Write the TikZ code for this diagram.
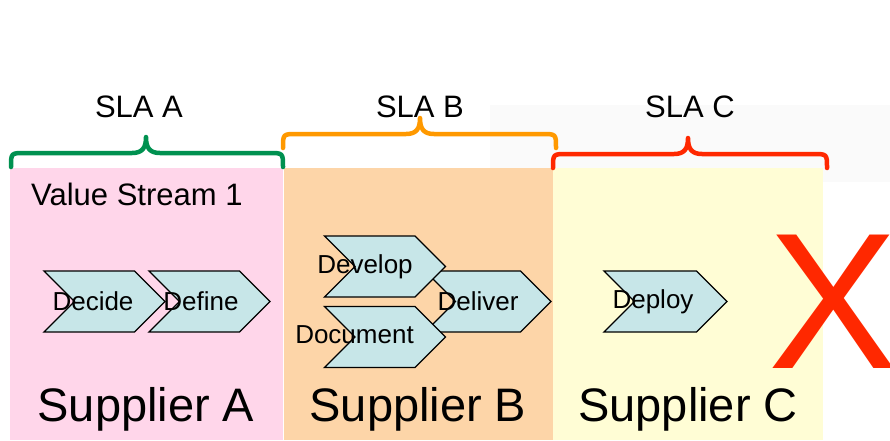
\documentclass[tikz,border=0pt]{standalone}
\usepackage{fontspec}
\setmainfont{Liberation Sans}
\usetikzlibrary{shapes.symbols,positioning}
\definecolor{paneA}{RGB}{255,214,234}
\definecolor{paneB}{RGB}{253,213,168}
\definecolor{paneC}{RGB}{255,253,213}
\definecolor{chevfill}{RGB}{199,230,232}
\definecolor{slagreen}{RGB}{0,145,80}
\definecolor{slaorange}{RGB}{255,153,0}
\definecolor{slared}{RGB}{255,40,0}
\definecolor{bgshade}{RGB}{250,250,250}
\tikzset{
  chev/.style={signal, signal from=west, signal to=east, draw=black, line width=1.3,
    fill=chevfill, minimum height=61pt, text width=60pt, inner sep=0pt},
  chevtext/.style={inner sep=0pt, font=\fontsize{26}{30}\selectfont},
  slabrace/.style={line width=4.5, line cap=round, line join=round},
  slalabel/.style={inner sep=0pt, font=\fontsize{31}{36}\selectfont},
  supplier/.style={inner sep=0pt, font=\fontsize{47}{54}\selectfont}
}
\begin{document}
\begin{tikzpicture}[x=1pt, y=-1pt]
\useasboundingbox (0,0) rectangle (890,440);
\fill [color=bgshade] (490,105) rectangle (890,182);

    % supplier panes
    \fill [color=paneA] (10,168) rectangle (283,440);
    \fill [color=paneB] (284,168) rectangle (553,440);
    \fill [color=paneC] (553,168) rectangle (823,440);

    % braces
    \draw [slabrace, color=slagreen] (11,167) .. controls (11,153) .. (25,153) -- (132,153)
        .. controls (143,153) and (146,147) .. (146,137) .. controls (146,147) and (149,153) .. (160,153)
        -- (269,153) .. controls (283,153) .. (283,167);
    \draw [slabrace, color=slaorange] (283,148) .. controls (283,134) .. (297,134) -- (406,134)
        .. controls (417,134) and (420,128) .. (420,118) .. controls (420,128) and (423,134) .. (434,134)
        -- (542,134) .. controls (556,134) .. (556,148);
    \draw [slabrace, color=slared] (553,168) .. controls (553,154) .. (567,154) -- (674,154)
        .. controls (685,154) and (688,148) .. (688,138) .. controls (688,148) and (691,154) .. (702,154)
        -- (813,154) .. controls (827,154) .. (827,168);

    \draw (139,117) node [slalabel, anchor=base] (slaA) {SLA A};
    \draw (420,117) node [slalabel, anchor=base] (slaB) {SLA B};
    \draw (690,117) node [slalabel, anchor=base] (slaC) {SLA C};

    \draw (31,205) node [inner sep=0pt, anchor=base west, font=\fontsize{31}{36}\selectfont] (stream) {Value Stream 1};

    % steps
    \draw (104.5,301.5) node [chev] (decide) {};
    \draw (209.5,301.5) node [chev] (define) {};
    \draw (488,301.5) node [chev, text width=65pt] (deliver) {};
    \draw (385,266.5) node [chev] (develop) {};
    \draw (385,337) node [chev] (document) {};
    \draw (665.5,301.5) node [chev, text width=62pt] (deploy) {};

    \node [chevtext, xshift=-11.5pt] (decidetext) at (decide) {Decide};
    \node [chevtext, xshift=-8.5pt] (definetext) at (define) {Define};
    \node [chevtext, xshift=-20pt] (developtext) at (develop) {Develop};
    \node [chevtext, xshift=-30.5pt, yshift=2pt] (documenttext) at (document) {Document};
    \node [chevtext, xshift=-10pt] (delivertext) at (deliver) {Deliver};
    \node [chevtext, xshift=-12.5pt] (deploytext) at (deploy) {Deploy};

    \draw (146,421) node [supplier, anchor=base] (supA) {Supplier A};
    \draw (418,421) node [supplier, anchor=base] (supB) {Supplier B};
    \draw (688,421) node [supplier, anchor=base] (supC) {Supplier C};

    \draw (768,368) node [inner sep=0pt, anchor=base west, text=slared, font=\fontsize{194}{200}\selectfont] (cross) {X};
\end{tikzpicture}
\end{document}
